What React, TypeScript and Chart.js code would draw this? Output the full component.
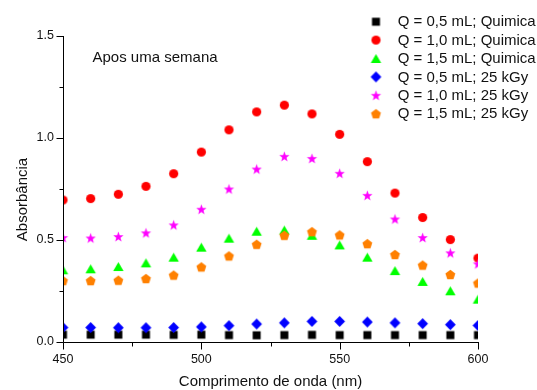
import React, { useEffect, useRef } from 'react';
import { Chart, registerables } from 'chart.js';

Chart.register(...registerables);

// ---- data ----
const wavelengths = [450, 460, 470, 480, 490, 500, 510, 520, 530, 540, 550, 560, 570, 580, 590, 600];

const q05Quimica = [0.036, 0.036, 0.036, 0.036, 0.035, 0.036, 0.034, 0.033, 0.034, 0.035, 0.034, 0.034, 0.034, 0.034, 0.034, 0.034];
const q10Quimica = [0.696, 0.703, 0.724, 0.763, 0.825, 0.931, 1.040, 1.128, 1.161, 1.118, 1.018, 0.884, 0.730, 0.610, 0.502, 0.411];
const q15Quimica = [0.354, 0.359, 0.370, 0.388, 0.416, 0.465, 0.509, 0.543, 0.549, 0.523, 0.476, 0.416, 0.350, 0.297, 0.251, 0.210];
const q05Gy = [0.071, 0.071, 0.070, 0.070, 0.071, 0.074, 0.080, 0.088, 0.094, 0.101, 0.101, 0.098, 0.094, 0.090, 0.085, 0.081];
const q10Gy = [0.512, 0.510, 0.517, 0.535, 0.574, 0.651, 0.750, 0.848, 0.910, 0.900, 0.827, 0.719, 0.603, 0.512, 0.437, 0.383];
const q15Gy = [0.301, 0.301, 0.303, 0.311, 0.328, 0.368, 0.422, 0.479, 0.523, 0.541, 0.525, 0.482, 0.429, 0.377, 0.331, 0.289];

const seriesLabels = [
  'Q = 0,5 mL; Quimica',
  'Q = 1,0 mL; Quimica',
  'Q = 1,5 mL; Quimica',
  'Q = 0,5 mL; 25 kGy',
  'Q = 1,0 mL; 25 kGy',
  'Q = 1,5 mL; 25 kGy',
];
const seriesValues = [q05Quimica, q10Quimica, q15Quimica, q05Gy, q10Gy, q15Gy];
const seriesColors = ['#000000', '#ff0000', '#00ff00', '#0000ff', '#ff00ff', '#ff8000'];
const seriesShapes = ['square', 'circle', 'triangle', 'diamond', 'star', 'pentagon'];

const xMajorTicks = [450, 500, 550, 600];
const xMinorTicks = [475, 525, 575];
const xTickLabels = ['450', '500', '550', '600'];
const yMajorTicks = [0, 0.5, 1.0, 1.5];
const yMinorTicks = [0.25, 0.75, 1.25];
const yTickLabels = ['0.0', '0.5', '1.0', '1.5'];

const xTitle = 'Comprimento de onda (nm)';
const yTitle = 'Absorbância';
const annotationText = 'Apos uma semana';

const FONT_FAMILY = '"Liberation Sans", Arial, Helvetica, sans-serif';

function makeMarker(shape: string, color: string): HTMLCanvasElement {
  const size = 13;
  const c = document.createElement('canvas');
  c.width = size;
  c.height = size;
  const ctx = c.getContext('2d')!;
  const cx = size / 2;
  const cy = size / 2;
  ctx.fillStyle = color;
  ctx.beginPath();
  const poly = (n: number, R: number, r: number | null) => {
    const shift = (R - R * Math.cos(Math.PI / n)) / 2;
    const pts = r === null ? n : n * 2;
    for (let k = 0; k < pts; k++) {
      const ang = -Math.PI / 2 + (k * Math.PI * 2) / pts;
      const rad = r === null ? R : k % 2 === 0 ? R : r;
      const px = cx + rad * Math.cos(ang);
      const py = cy + shift + rad * Math.sin(ang);
      if (k === 0) ctx.moveTo(px, py);
      else ctx.lineTo(px, py);
    }
    ctx.closePath();
  };
  switch (shape) {
    case 'square':
      ctx.rect(cx - 4, cy - 4, 8, 8);
      break;
    case 'circle':
      ctx.arc(cx, cy, 4.6, 0, Math.PI * 2);
      break;
    case 'triangle':
      ctx.moveTo(cx, cy - 4.6);
      ctx.lineTo(cx + 5.2, cy + 4.4);
      ctx.lineTo(cx - 5.2, cy + 4.4);
      ctx.closePath();
      break;
    case 'diamond':
      ctx.moveTo(cx, cy - 5.4);
      ctx.lineTo(cx + 5.4, cy);
      ctx.lineTo(cx, cy + 5.4);
      ctx.lineTo(cx - 5.4, cy);
      ctx.closePath();
      break;
    case 'star':
      poly(5, 5.4, 2.2);
      break;
    case 'pentagon':
      poly(5, 5.2, null);
      break;
  }
  ctx.fill();
  return c;
}

export default function App() {
  const canvasRef = useRef<HTMLCanvasElement | null>(null);

  useEffect(() => {
    const canvas = canvasRef.current;
    if (!canvas) return;
    const markers = seriesShapes.map((s, i) => makeMarker(s, seriesColors[i]));

    const datasets = seriesValues.map((vals, i) => ({
      label: seriesLabels[i],
      data: wavelengths.map((w, j) => ({ x: w, y: vals[j] })),
      pointStyle: markers[i] as any,
      pointRadius: 5,
      backgroundColor: seriesColors[i],
      borderColor: seriesColors[i],
      showLine: false,
      clip: 0,
      order: seriesValues.length - i,
    }));

    const decor = {
      id: 'decor',
      afterDraw(chart: any) {
        const ctx = chart.ctx as CanvasRenderingContext2D;
        const xs = chart.scales.x;
        const ys = chart.scales.y;
        const { left, right, top, bottom } = chart.chartArea;
        ctx.save();
        ctx.strokeStyle = '#000';
        ctx.lineWidth = 1;
        ctx.beginPath();
        const ax = Math.round(left) + 0.5;
        const ay = Math.round(bottom) + 0.5;
        ctx.moveTo(ax, Math.round(top));
        ctx.lineTo(ax, ay);
        ctx.lineTo(Math.round(right) + 1, ay);
        // y ticks
        yMajorTicks.forEach((v) => {
          const py = Math.round(ys.getPixelForValue(v)) + 0.5;
          ctx.moveTo(ax - 7, py);
          ctx.lineTo(ax, py);
        });
        yMinorTicks.forEach((v) => {
          const py = Math.round(ys.getPixelForValue(v)) + 0.5;
          ctx.moveTo(ax - 4, py);
          ctx.lineTo(ax, py);
        });
        xMajorTicks.forEach((v) => {
          const px = Math.round(xs.getPixelForValue(v)) + 0.5;
          ctx.moveTo(px, ay);
          ctx.lineTo(px, ay + 7);
        });
        xMinorTicks.forEach((v) => {
          const px = Math.round(xs.getPixelForValue(v)) + 0.5;
          ctx.moveTo(px, ay);
          ctx.lineTo(px, ay + 4);
        });
        ctx.stroke();

        ctx.fillStyle = '#111';
        ctx.font = `15px ${FONT_FAMILY}`;
        // x title
        ctx.textAlign = 'center';
        ctx.textBaseline = 'alphabetic';
        ctx.fillText(xTitle, (left + right) / 2, 386);
        // y title
        ctx.save();
        ctx.translate(27, 199.5);
        ctx.rotate(-Math.PI / 2);
        ctx.textAlign = 'center';
        ctx.fillText(yTitle, 0, 0);
        ctx.restore();
        // annotation
        ctx.textAlign = 'left';
        ctx.fillText(annotationText, 92.5, 61.5);

        // legend
        ctx.textBaseline = 'middle';
        chart.data.datasets.forEach((ds: any, i: number) => {
          const cy = 21.7 + i * 18.4;
          const img = ds.pointStyle as HTMLCanvasElement;
          ctx.drawImage(img, 376 - img.width / 2, cy - img.height / 2);
          ctx.fillText(ds.label, 397.7, cy + 0.5);
        });
        ctx.restore();
      },
    };

    const chart = new Chart(canvas, {
      type: 'scatter',
      data: { datasets: datasets as any },
      options: {
        animation: false,
        responsive: false,
        devicePixelRatio: 1,
        events: [],
        layout: { padding: { left: 0, top: 36, right: 59, bottom: 0 } },
        plugins: {
          legend: { display: false },
          tooltip: { enabled: false },
          title: { display: false },
        },
        scales: {
          x: {
            type: 'linear',
            min: 450,
            max: 600,
            afterFit: (s: any) => {
              s.height = 48;
            },
            grid: { display: false, drawTicks: false },
            border: { display: false },
            ticks: {
              stepSize: 50,
              padding: 10,
              color: '#111',
              maxRotation: 0,
              autoSkip: false,
              font: { family: FONT_FAMILY, size: 12.5 },
              callback: (v: any) => {
                const idx = xMajorTicks.indexOf(Number(v));
                return idx >= 0 ? xTickLabels[idx] : '';
              },
            },
          },
          y: {
            type: 'linear',
            min: 0,
            max: 1.5,
            afterFit: (s: any) => {
              s.width = 63;
            },
            grid: { display: false, drawTicks: false },
            border: { display: false },
            ticks: {
              stepSize: 0.5,
              padding: 9,
              color: '#111',
              font: { family: FONT_FAMILY, size: 12.5 },
              callback: (v: any) => {
                const idx = yMajorTicks.findIndex((t) => Math.abs(t - Number(v)) < 1e-6);
                return idx >= 0 ? yTickLabels[idx] : '';
              },
            },
          },
        },
      },
      plugins: [decor],
    });

    return () => {
      chart.destroy();
    };
  }, []);

  return (
    <div style={{ position: 'absolute', left: 0, top: 0, width: 537, height: 390, background: '#fff' }}>
      <canvas ref={canvasRef} width={537} height={390} style={{ display: 'block' }} />
    </div>
  );
}
